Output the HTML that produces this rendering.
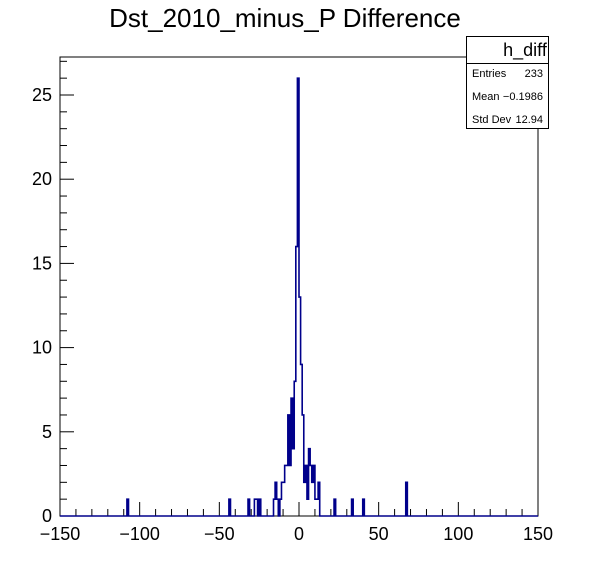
<!DOCTYPE html>
<html><head><meta charset="utf-8"><style>
body{margin:0;background:#fff;}
svg text{font-family:"Liberation Sans",sans-serif;}
</style></head><body>
<svg id="c" width="598" height="573" viewBox="0 0 598 573" xmlns="http://www.w3.org/2000/svg">
<rect width="598" height="573" fill="#fff"/>
<text x="285" y="27" font-size="26" text-anchor="middle">Dst_2010_minus_P Difference</text>
<rect x="60" y="57" width="478" height="459" fill="none" stroke="#000" stroke-width="1"/>
<g id="axes"></g>
<path id="hist" fill="none" stroke="#00008b" stroke-width="1.6"/>
<g>
<rect x="466.5" y="36.5" width="82" height="92" fill="#fff" stroke="#000"/>
<line x1="466.5" y1="63.5" x2="548.5" y2="63.5" stroke="#000"/>
<text x="525" y="56" font-size="18" text-anchor="middle">h_diff</text>
<text x="472" y="77" font-size="11">Entries</text><text x="543" y="77" font-size="11" text-anchor="end">233</text>
<text x="472" y="100" font-size="11">Mean</text><text x="543" y="100" font-size="11" text-anchor="end">−0.1986</text>
<text x="472" y="123" font-size="11">Std Dev</text><text x="543" y="123" font-size="11" text-anchor="end">12.94</text>
</g>
</svg>
<script>
const binLow=[-108,-44,-32,-28,-27,-25,-16,-15,-14,-12,-11,-10,-9,-8,-7,-6,-5,-4,-3,-2,-1,0,1,2,3,4,5,6,7,8,9,10,11,12,22,33,40,67];
const counts=[1,1,1,1,1,1,1,2,1,1,2,2,3,3,6,3,7,4,8,16,26,13,9,6,2,3,1,4,3,2,3,1,1,2,1,1,1,2];
const xTicks=[-150,-100,-50,0,50,100,150];
const yTicks=[0,5,10,15,20,25];
const X0=60,X1=538,Y0=516;
const xs=v=>X0+(v+150)/300*(X1-X0);
function ysc(v){return Y0-v*(Y0-95)/25;}
const NS="http://www.w3.org/2000/svg";
const ax=document.getElementById('axes');
function line(x1,y1,x2,y2){const l=document.createElementNS(NS,'line');l.setAttribute('x1',x1);l.setAttribute('y1',y1);l.setAttribute('x2',x2);l.setAttribute('y2',y2);l.setAttribute('stroke','#000');


ax.appendChild(l);}
function txt(x,y,s,a){const t=document.createElementNS(NS,'text');t.setAttribute('x',x);t.setAttribute('y',y);t.setAttribute('font-size','18');t.setAttribute('text-anchor',a);t.textContent=s;


ax.appendChild(t);}
for(let v=-150;v<=150;v+=10){const x=xs(v);line(x,Y0,x,Y0-(v%50==0?14:7));}
xTicks.forEach(v=>txt(xs(v),540,String(v).replace('-','−'),'middle'));
for(let v=0;v<=27;v++){const y=ysc(v);line(X0,y,X0+(v%5==0?14:7),y);}
yTicks.forEach(v=>txt(52,ysc(v)+6,String(v),'end'));
let d='M'+xs(-150)+','+Y0;
for(let i=0;i<binLow.length;i++){const a=xs(binLow[i]),b=xs(binLow[i]+1);
 if(i>0&&binLow[i-1]+1===binLow[i]){d+=' L'+a+','+ysc(counts[i]);}
 else{d+=' L'+a+','+Y0+' L'+a+','+ysc(counts[i]);}
 d+=' L'+b+','+ysc(counts[i]);
 if(!(i+1<binLow.length&&binLow[i+1]===binLow[i]+1))d+=' L'+b+','+Y0;}
d+=' L'+xs(150)+','+Y0;
document.getElementById('hist').setAttribute('d',d);
</script>
</body></html>
